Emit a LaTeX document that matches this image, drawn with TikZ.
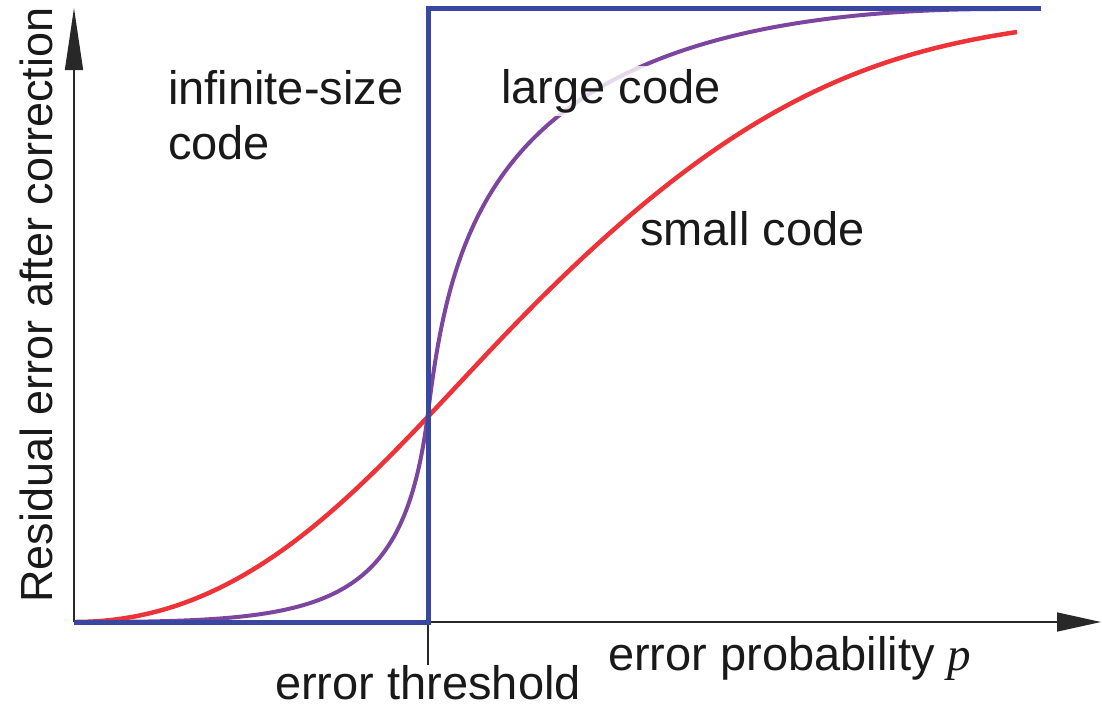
\documentclass[tikz,border=0pt]{standalone}
\usepackage{fontspec}
\setmainfont{Liberation Sans}
\newfontfamily\pfont{Liberation Serif}
\usetikzlibrary{arrows.meta}
\definecolor{cblue}{RGB}{58,71,160}
\definecolor{cred}{RGB}{238,51,56}
\definecolor{cpurple}{RGB}{123,69,160}
\definecolor{caxis}{RGB}{40,40,40}
\tikzset{
  lbl/.style={inner sep=0pt, anchor=base west, font=\fontsize{47}{56}\selectfont, text=black!90},
  axisline/.style={draw=caxis, line width=1.5pt},
  curve/.style={line width=4.5pt, line cap=butt, line join=round}
}
\begin{document}
\begin{tikzpicture}[x=1pt,y=-1pt]
\useasboundingbox (0,0) rectangle (1102,709);
% axes
\coordinate (O) at (74,622);
\coordinate (ytop) at (74,8);
\coordinate (xend) at (1101,622);
\coordinate (tk) at (428,622);
\coordinate (tkb) at (428,665);
\coordinate (X) at (428,413);
\draw[axisline, -{Triangle[length=62pt,width=18pt]}] (O) -- (ytop);
\draw[axisline, -{Triangle[length=44pt,width=19pt]}] (O) -- (xend);
\draw[axisline, line width=1.2pt] (tk) -- (tkb);
% small code
\draw[curve, cred] (75,622) .. controls (255,622) and (370,476.5) .. (500,340)
  .. controls (710,119.5) and (847,57.5) .. (1017,32);
% large code
\draw[curve, cpurple, line width=4pt] (75,622) .. controls (325,622) and (403,613) .. (X)
  .. controls (453,213) and (500,9) .. (1000,9);
% labels
\node[lbl, fill=white, fill opacity=0.8, text opacity=1, inner sep=3pt] (large) at (498,103) {large code};
\node[lbl] (inf1) at (168,104) {infinite-size};
\node[lbl] (inf2) at (168,159) {code};
\node[lbl] (small) at (640,245) {small code};
\node[lbl] (prob) at (608,670) {error probability {\pfont\itshape p}};
\node[lbl] (thr) at (275,699) {error threshold};
\node[lbl, anchor=base, rotate=90, font=\fontsize{45}{54}\selectfont] (ylab) at (52,305) {Residual error after correction};
% infinite-size code
\draw[line width=5pt, cblue, line join=miter] (O) -- (tk) -- (428,9) -- (1041,9);
\end{tikzpicture}
\end{document}
